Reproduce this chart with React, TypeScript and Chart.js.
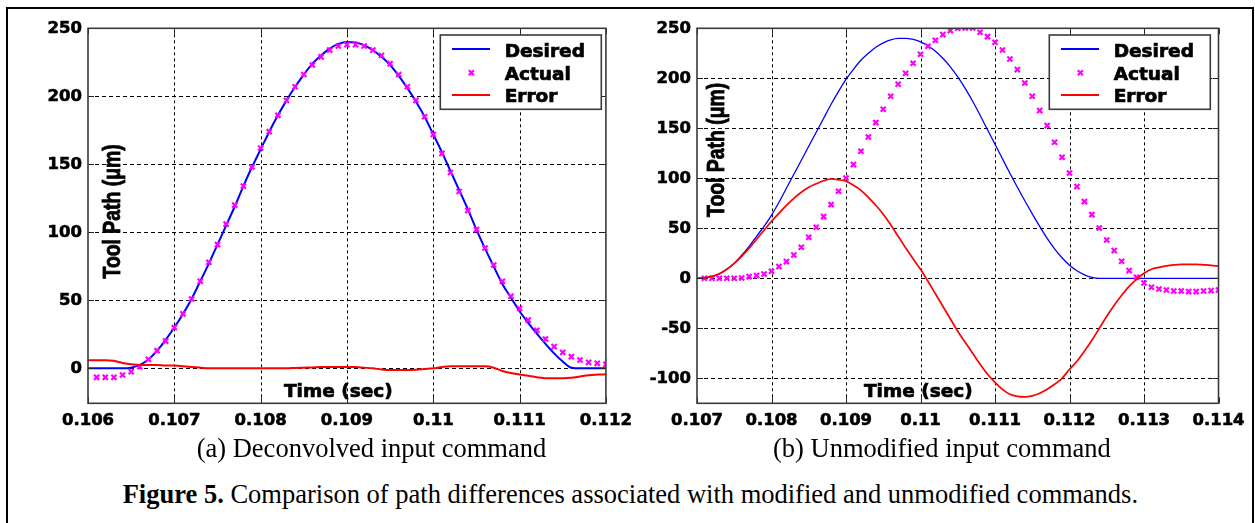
import React, { useEffect, useRef } from "react";
import { Chart, registerables } from "chart.js";

Chart.register(...registerables);

// ---------------- shared ----------------
const seriesNames = ["Desired", "Actual", "Error"];
const seriesColors = ["#0000ff", "#ff00ff", "#ff0000"];
const xTitle = "Time (sec)";
const yTitle = "Tool Path (\u03bcm)";
const captionA = "(a) Deconvolved input command";
const captionB = "(b) Unmodified input command";
const figLabel = "Figure 5.";
const figText = " Comparison of path differences associated with modified and unmodified commands.";

// ---------------- chart (a) ----------------
const timeA = [
  0.106, 0.1061, 0.1062, 0.1063, 0.1064, 0.1065, 0.1066, 0.1067, 0.1068, 0.1069,
  0.107, 0.1071, 0.1072, 0.1073, 0.1074, 0.1075, 0.1076, 0.1077, 0.1078, 0.1079,
  0.108, 0.1081, 0.1082, 0.1083, 0.1084, 0.1085, 0.1086, 0.1087, 0.1088, 0.1089,
  0.109, 0.1091, 0.1092, 0.1093, 0.1094, 0.1095, 0.1096, 0.1097, 0.1098, 0.1099,
  0.11, 0.1101, 0.1102, 0.1103, 0.1104, 0.1105, 0.1106, 0.1107, 0.1108, 0.1109,
  0.111, 0.1111, 0.1112, 0.1113, 0.1114, 0.1115, 0.1116, 0.1117, 0.1118, 0.1119,
  0.112,
];
const desiredA = [
  0, 0, 0, 0, 0, 0.5, 2.5, 6.5, 13, 21,
  30, 40, 51, 64, 77, 91, 105, 119, 134, 148,
  161, 174, 186, 197, 207, 216, 224, 230, 235, 238.5,
  240, 239.5, 237.5, 234, 229, 223, 215, 206, 196, 185,
  172, 159, 145, 131, 117, 102, 88, 75, 62, 52,
  42, 33.5, 25.5, 18, 11, 5, 0.5, 0, 0, 0,
  0,
];
const actualA = [
  null, -6.6, -6.6, -6.6, -4.9, -2.4, 1.2, 6.6, 13, 20,
  30, 40, 51, 64, 78, 91, 106, 120, 134, 148,
  162, 174, 186, 197, 207, 216, 223, 229, 234, 237,
  238, 238, 237, 234, 230, 224, 216, 207, 197, 185,
  172, 158, 144, 130, 116, 102, 88.5, 76, 64, 53,
  44, 35.5, 28, 21.5, 16, 11.7, 8.6, 6.1, 4.4, 3.7,
  3,
];
const errorA = [
  6, 6, 6, 5.5, 4, 3, 2.5, 2.5, 2.5, 2,
  2, 1.5, 1, 0.5, 0, 0, 0, 0, 0, 0,
  0, 0, 0, 0, 0.3, 0.5, 0.7, 1, 1, 1,
  1, 1, 0.5, 0, -0.8, -1.2, -1.2, -1.2, -1, -0.5,
  0, 1, 1.5, 1.5, 1.5, 1.5, 1.5, 0.5, -2, -3.5,
  -4.5, -5.5, -6.5, -7.3, -7.3, -7.3, -7, -6, -5, -4.6,
  -4.4,
];
const xTicksA = [0.106, 0.107, 0.108, 0.109, 0.11, 0.111, 0.112];
const xTickLabelsA = ["0.106", "0.107", "0.108", "0.109", "0.11", "0.111", "0.112"];
const yTicksA = [0, 50, 100, 150, 200, 250];
const yTickLabelsA = ["0", "50", "100", "150", "200", "250"];
const xRangeA = [0.106, 0.112];
const yRangeA = [-25.7, 250];

// ---------------- chart (b) ----------------
const timeB = [
  0.107, 0.1071, 0.1072, 0.1073, 0.1074, 0.1075, 0.1076, 0.1077, 0.1078, 0.1079,
  0.108, 0.1081, 0.1082, 0.1083, 0.1084, 0.1085, 0.1086, 0.1087, 0.1088, 0.1089,
  0.109, 0.1091, 0.1092, 0.1093, 0.1094, 0.1095, 0.1096, 0.1097, 0.1098, 0.1099,
  0.11, 0.1101, 0.1102, 0.1103, 0.1104, 0.1105, 0.1106, 0.1107, 0.1108, 0.1109,
  0.111, 0.1111, 0.1112, 0.1113, 0.1114, 0.1115, 0.1116, 0.1117, 0.1118, 0.1119,
  0.112, 0.1121, 0.1122, 0.1123, 0.1124, 0.1125, 0.1126, 0.1127, 0.1128, 0.1129,
  0.113, 0.1131, 0.1132, 0.1133, 0.1134, 0.1135, 0.1136, 0.1137, 0.1138, 0.1139,
  0.114,
];
const desiredB = [
  0, 0.5, 2, 4.5, 9, 15, 23, 32, 42, 52,
  63, 76, 90, 104, 118, 132, 146, 160, 174, 187,
  199, 209, 218, 225, 231, 235.5, 238.5, 240, 240, 239,
  236.5, 232.5, 227, 220, 211.5, 201.5, 190, 177, 163, 148.5,
  134, 119.5, 105, 91, 77.5, 64.5, 52, 40, 29.5, 20.5,
  13, 7.5, 3.5, 1, 0, 0, 0, 0, 0, 0,
  0, 0, 0, 0, 0, 0, 0, 0, 0, 0,
  0,
];
const actualB = [
  null, 0, 0, 0, 0, 0, 0.3, 1.7, 2.7, 4.3,
  7, 11.7, 16.7, 23.3, 31, 41, 51, 61.7, 73.7, 87,
  100.3, 113.7, 127, 141.3, 155.7, 169, 182, 194, 205, 215,
  224, 232, 238, 243.7, 247.7, 250, 250.3, 250.3, 246, 241.7,
  236, 228.3, 219.3, 208.7, 195.3, 182, 167.7, 152.7, 136, 121,
  105.3, 91.7, 76.7, 63.7, 50.3, 38.3, 27.7, 17, 7.7, 1,
  -4.7, -9, -10.7, -11.7, -12.7, -12.7, -13.3, -13.3, -12.7, -12.3,
  -11.7,
];
const errorB = [
  0, 0.5, 2, 4.5, 9, 15, 22, 30, 39, 48,
  57, 65, 73, 80, 86, 91, 94.5, 97.5, 99.3, 98.5,
  97, 93, 88, 81, 73, 64, 53.5, 42, 30.5, 19.5,
  9, -3, -15.5, -28, -40.5, -53, -64, -75, -86, -96,
  -104, -111, -116, -118, -118.5, -117.5, -115, -111, -106, -100,
  -91, -83, -73, -62, -50, -38, -27, -17, -8, -1,
  5, 9, 11, 12.5, 13.5, 14, 14, 14, 13.5, 13,
  12,
];
const xTicksB = [0.107, 0.108, 0.109, 0.11, 0.111, 0.112, 0.113, 0.114];
const xTickLabelsB = ["0.107", "0.108", "0.109", "0.11", "0.111", "0.112", "0.113", "0.114"];
const yTicksB = [-100, -50, 0, 50, 100, 150, 200, 250];
const yTickLabelsB = ["-100", "-50", "0", "50", "100", "150", "200", "250"];
const xRangeB = [0.107, 0.114];
const yRangeB = [-125, 250];

// ---------------- drawing helpers ----------------
const TICK_FONT = { family: "'DejaVu Sans', sans-serif", weight: "bold" as const, size: 16.5 };

function drawCross(ctx: CanvasRenderingContext2D, x: number, y: number, r: number) {
  const d = r * Math.SQRT1_2;
  ctx.beginPath();
  ctx.moveTo(x - d, y - d);
  ctx.lineTo(x + d, y + d);
  ctx.moveTo(x - d, y + d);
  ctx.lineTo(x + d, y - d);
  ctx.stroke();
}

function boldText(ctx: CanvasRenderingContext2D, s: string, x: number, y: number, w: number) {
  ctx.fillText(s, x, y);
  ctx.lineWidth = w;
  ctx.strokeStyle = "#000";
  ctx.strokeText(s, x, y);
}

type Decor = {
  xTicks: number[];
  yTicks: number[];
  xTitleX: number;
  xTitleY: number;
  yTitleX: number;
  yTitleY: number;
  legendX: number;
  legendY: number;
};

function decorPlugin(d: Decor) {
  return {
    id: "matlabDecor",
    beforeDatasetsDraw(chart: any) {
      const { ctx, chartArea: a, scales } = chart;
      const x = scales.x;
      const y = scales.y;
      ctx.save();
      ctx.strokeStyle = "#000";
      ctx.lineWidth = 1;
      ctx.setLineDash([3, 3]);
      for (const v of d.xTicks) {
        const px = Math.round(x.getPixelForValue(v)) + 0.5;
        if (px <= a.left + 2 || px >= a.right - 2) continue;
        ctx.beginPath();
        ctx.moveTo(px, a.top);
        ctx.lineTo(px, a.bottom);
        ctx.stroke();
      }
      ctx.setLineDash([4, 3]);
      for (const v of d.yTicks) {
        const py = Math.round(y.getPixelForValue(v)) + 0.5;
        if (py <= a.top + 2 || py >= a.bottom - 2) continue;
        ctx.beginPath();
        ctx.moveTo(a.left, py);
        ctx.lineTo(a.right, py);
        ctx.stroke();
      }
      ctx.restore();
    },
    afterDatasetsDraw(chart: any) {
      const { ctx, chartArea: a, scales } = chart;
      const x = scales.x;
      const y = scales.y;
      ctx.save();
      // inward tick marks
      ctx.strokeStyle = "#222";
      ctx.lineWidth = 1;
      ctx.setLineDash([]);
      const tl = 6;
      for (const v of d.xTicks) {
        const px = Math.round(x.getPixelForValue(v)) + 0.5;
        ctx.beginPath();
        ctx.moveTo(px, a.bottom);
        ctx.lineTo(px, a.bottom - tl);
        ctx.moveTo(px, a.top);
        ctx.lineTo(px, a.top + tl);
        ctx.stroke();
      }
      for (const v of d.yTicks) {
        const py = Math.round(y.getPixelForValue(v)) + 0.5;
        ctx.beginPath();
        ctx.moveTo(a.left, py);
        ctx.lineTo(a.left + tl, py);
        ctx.moveTo(a.right, py);
        ctx.lineTo(a.right - tl, py);
        ctx.stroke();
      }
      // frame
      ctx.strokeStyle = "#3a3a3a";
      ctx.lineWidth = 1.6;
      ctx.strokeRect(a.left, a.top, a.right - a.left, a.bottom - a.top);

      // x title (inside the axes)
      ctx.fillStyle = "#000";
      ctx.font = "bold 18.5px 'DejaVu Sans', sans-serif";
      ctx.textAlign = "left";
      ctx.textBaseline = "alphabetic";
      boldText(ctx, xTitle, d.xTitleX, d.xTitleY, 0.7);

      // y title (rotated, inside the axes)
      ctx.save();
      ctx.translate(d.yTitleX, d.yTitleY);
      ctx.scale(1.2, 1);
      ctx.rotate(-Math.PI / 2);
      ctx.font = "bold 19.4px 'Liberation Sans', Arial, sans-serif";
      ctx.textAlign = "left";
      ctx.textBaseline = "alphabetic";
      boldText(ctx, yTitle, 0, 0, 0.7);
      ctx.restore();

      // legend
      const L = { x: d.legendX, y: d.legendY, w: 161, h: 74.3 };
      ctx.fillStyle = "#fff";
      ctx.fillRect(L.x, L.y, L.w, L.h);
      ctx.strokeStyle = "#3a3a3a";
      ctx.lineWidth = 1.6;
      ctx.strokeRect(L.x, L.y, L.w, L.h);
      const rowY = [14, 37.7, 60];
      const baseY = [21.7, 45, 67.3];
      ctx.font = "bold 18.5px 'DejaVu Sans', sans-serif";
      for (let i = 0; i < seriesNames.length; i++) {
        ctx.strokeStyle = seriesColors[i];
        if (i === 1) {
          ctx.lineWidth = 2.2;
          drawCross(ctx, L.x + 31, L.y + rowY[i], 3.6);
        } else {
          ctx.lineWidth = 2;
          ctx.beginPath();
          ctx.moveTo(L.x + 11.7, L.y + rowY[i]);
          ctx.lineTo(L.x + 49.7, L.y + rowY[i]);
          ctx.stroke();
        }
        ctx.fillStyle = "#000";
        boldText(ctx, seriesNames[i], L.x + 64.4, L.y + baseY[i], 0.7);
      }
      ctx.restore();
    },
  };
}

type PanelProps = {
  time: number[];
  desired: number[];
  actual: (number | null)[];
  error: number[];
  xTicks: number[];
  xTickLabels: string[];
  yTicks: number[];
  yTickLabels: string[];
  xRange: number[];
  yRange: number[];
  width: number;
  height: number;
  left: number;
  plotLeft: number;
  plotRightPad: number;
  lineWidthDesired: number;
  lineWidthError: number;
  decor: Decor;
};

function Panel(p: PanelProps) {
  const ref = useRef<HTMLCanvasElement | null>(null);
  useEffect(() => {
    if (!ref.current) return;
    const pts = (ys: (number | null)[]) =>
      p.time.map((t, i) => ({ x: t, y: ys[i] as any }));
    const chart = new Chart(ref.current, {
      type: "line",
      data: {
        datasets: [
          {
            label: seriesNames[0],
            data: pts(p.desired),
            borderColor: seriesColors[0],
            borderWidth: p.lineWidthDesired,
            pointRadius: 0,
            cubicInterpolationMode: "monotone",
            fill: false,
            order: 2,
          },
          {
            label: seriesNames[1],
            data: pts(p.actual),
            showLine: false,
            pointStyle: "crossRot",
            pointRadius: 3.6,
            pointBorderWidth: 2.2,
            borderColor: seriesColors[1],
            backgroundColor: seriesColors[1],
            order: 1,
          },
          {
            label: seriesNames[2],
            data: pts(p.error),
            borderColor: seriesColors[2],
            borderWidth: p.lineWidthError,
            pointRadius: 0,
            cubicInterpolationMode: "monotone",
            fill: false,
            order: 0,
          },
        ] as any,
      },
      options: {
        animation: false,
        responsive: false,
        devicePixelRatio: 1,
        events: [],
        layout: { padding: { top: 28.3, right: p.plotRightPad, left: 0, bottom: 0 } },
        plugins: { legend: { display: false }, tooltip: { enabled: false } },
        scales: {
          x: {
            type: "linear",
            min: p.xRange[0],
            max: p.xRange[1],
            afterBuildTicks: (s: any) => {
              s.ticks = p.xTicks.map((v) => ({ value: v }));
            },
            afterFit: (s: any) => {
              s.height = p.height - 403.3;
            },
            grid: { display: false, drawTicks: false },
            border: { display: false },
            ticks: {
              font: TICK_FONT,
              color: "#000",
              textStrokeColor: "#000",
              textStrokeWidth: 0.6,
              padding: 8,
              maxRotation: 0,
              autoSkip: false,
              callback: (_v: any, i: number) => p.xTickLabels[i],
            },
          },
          y: {
            type: "linear",
            min: p.yRange[0],
            max: p.yRange[1],
            afterBuildTicks: (s: any) => {
              s.ticks = p.yTicks.map((v) => ({ value: v }));
            },
            afterFit: (s: any) => {
              s.width = p.plotLeft;
            },
            grid: { display: false, drawTicks: false },
            border: { display: false },
            ticks: {
              font: TICK_FONT,
              color: "#000",
              textStrokeColor: "#000",
              textStrokeWidth: 0.6,
              padding: 6,
              autoSkip: false,
              callback: (_v: any, i: number) => p.yTickLabels[i],
            },
          },
        },
      } as any,
      plugins: [decorPlugin(p.decor)],
    });
    return () => chart.destroy();
  }, []);
  return (
    <canvas
      ref={ref}
      width={p.width}
      height={p.height}
      style={{ position: "absolute", left: p.left, top: 0, width: p.width, height: p.height }}
    />
  );
}

const serif = "'Liberation Serif', 'Times New Roman', serif";

export default function App() {
  return (
    <div
      style={{
        position: "absolute",
        left: 0,
        top: 0,
        width: 1255,
        height: 523,
        background: "#fff",
        overflow: "hidden",
      }}
    >
      <div
        style={{
          position: "absolute",
          left: 6,
          top: 7,
          width: 1248,
          height: 580,
          border: "2px solid #000",
          boxSizing: "border-box",
        }}
      />
      <Panel
        time={timeA}
        desired={desiredA}
        actual={actualA}
        error={errorA}
        xTicks={xTicksA}
        xTickLabels={xTickLabelsA}
        yTicks={yTicksA}
        yTickLabels={yTickLabelsA}
        xRange={xRangeA}
        yRange={yRangeA}
        width={640}
        height={440}
        left={0}
        plotLeft={88}
        plotRightPad={30}
        lineWidthDesired={2}
        lineWidthError={2}
        decor={{
          xTicks: xTicksA,
          yTicks: yTicksA,
          xTitleX: 284,
          xTitleY: 396.7,
          yTitleX: 119.7,
          yTitleY: 278.5,
          legendX: 440.3,
          legendY: 35,
        }}
      />
      <Panel
        time={timeB}
        desired={desiredB}
        actual={actualB}
        error={errorB}
        xTicks={xTicksB}
        xTickLabels={xTickLabelsB}
        yTicks={yTicksB}
        yTickLabels={yTickLabelsB}
        xRange={xRangeB}
        yRange={yRangeB}
        width={635}
        height={440}
        left={620}
        plotLeft={77}
        plotRightPad={36.5}
        lineWidthDesired={1.3}
        lineWidthError={1.7}
        decor={{
          xTicks: xTicksB,
          yTicks: yTicksB,
          xTitleX: 244,
          xTitleY: 396.7,
          yTitleX: 103.7,
          yTitleY: 217,
          legendX: 429.3,
          legendY: 35,
        }}
      />
      <div
        style={{
          position: "absolute",
          left: 196.7,
          top: 434.5,
          fontFamily: serif,
          fontSize: "26.5px",
          lineHeight: "26.5px",
          whiteSpace: "nowrap",
          color: "#000",
        }}
      >
        {captionA}
      </div>
      <div
        style={{
          position: "absolute",
          left: 773,
          top: 434.5,
          fontFamily: serif,
          fontSize: "26.5px",
          lineHeight: "26.5px",
          whiteSpace: "nowrap",
          color: "#000",
        }}
      >
        {captionB}
      </div>
      <div
        style={{
          position: "absolute",
          left: 122.7,
          top: 481.1,
          fontFamily: serif,
          fontSize: "26.5px",
          lineHeight: "26.5px",
          whiteSpace: "nowrap",
          color: "#000",
        }}
      >
        <b>{figLabel}</b>
        {figText}
      </div>
    </div>
  );
}
